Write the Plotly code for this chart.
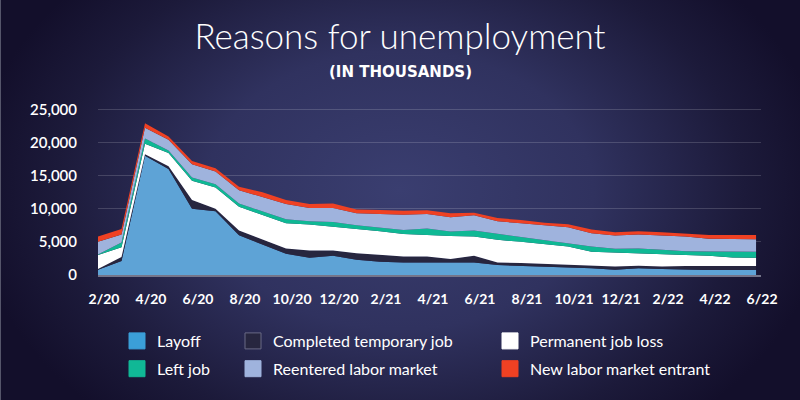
import base64
import plotly.graph_objects as go

months = ["2/20", "3/20", "4/20", "5/20", "6/20", "7/20", "8/20", "9/20", "10/20", "11/20",
          "12/20", "1/21", "2/21", "3/21", "4/21", "5/21", "6/21", "7/21", "8/21", "9/21",
          "10/21", "11/21", "12/21", "1/22", "2/22", "3/22", "4/22", "5/22", "6/22"]

layoff = [800, 2100, 18000, 16000, 10000, 9600, 6000, 4600, 3200, 2600, 2900, 2300, 2000, 1900, 1900,
          1900, 1900, 1500, 1400, 1300, 1200, 1000, 800, 1000, 900, 800, 750, 750, 750]
completed_temp = [100, 600, 200, 400, 1300, 400, 700, 700, 800, 1100, 800, 1000, 1000, 900, 900,
                  500, 1000, 400, 400, 400, 400, 400, 500, 400, 400, 550, 600, 600, 600]
permanent_loss = [2100, 1500, 1600, 2000, 2900, 3200, 3600, 3700, 3800, 3900, 3600, 3700, 3600, 3400, 3200,
                  3500, 2900, 3400, 3200, 3000, 2700, 2100, 2050, 1800, 1800, 1650, 1550, 1300, 1250]
left_job = [100, 700, 800, 400, 500, 500, 500, 600, 600, 500, 700, 500, 550, 600, 1000,
            650, 900, 900, 800, 600, 500, 800, 600, 800, 700, 600, 650, 850, 900]
reentered = [1900, 1200, 1600, 1600, 2000, 1900, 2000, 2100, 2300, 2000, 2100, 1800, 2050, 2300, 2200,
             2150, 2300, 1900, 2000, 2150, 2400, 2000, 2000, 2100, 2200, 2200, 1900, 1950, 1900]
new_entrant = [800, 850, 700, 500, 500, 500, 500, 800, 600, 600, 700, 600, 600, 600, 550,
               600, 400, 500, 500, 450, 450, 550, 500, 500, 450, 500, 600, 600, 650]

series_names = ["Layoff", "Completed temporary job", "Permanent job loss",
                "Left job", "Reentered labor market", "New labor market entrant"]
series_values = [layoff, completed_temp, permanent_loss, left_job, reentered, new_entrant]
y_ticks = [0, 5000, 10000, 15000, 20000, 25000]

area_colors = ["#5ea3d6", "#27263f", "#ffffff", "#0fb894", "#9fb3dd", "#ef4123"]
swatch_colors = ["#3b9fd8", "#27263f", "#ffffff", "#10b896", "#9fb3dd", "#ef4123"]
swatch_lines = ["#3b9fd8", "#6a6a86", "#ffffff", "#10b896", "#9fb3dd", "#ef4123"]
legend_ids = ["legend", "legend2", "legend3", "legend", "legend2", "legend3"]

x = list(range(len(months)))

# layout geometry
W_FIG, H_FIG = 800, 400
L, R, T, B = 98, 39, 100, 125
PW = W_FIG - L - R
PH = H_FIG - T - B

fig = go.Figure()
for name, vals, col in zip(series_names, series_values, area_colors):
    fig.add_trace(go.Scatter(
        x=x, y=vals, name=name, mode="lines", stackgroup="one",
        line=dict(width=0, color=col), fillcolor=col,
        showlegend=False, hoverinfo="skip"))

for i, name in enumerate(series_names):
    fig.add_trace(go.Scatter(
        x=[None], y=[None], name=name, mode="markers",
        marker=dict(symbol="square", size=16, color=swatch_colors[i],
                    line=dict(color=swatch_lines[i], width=1)),
        legend=legend_ids[i], legendgroup=name, showlegend=True))

svg = (
    '<svg xmlns="http://www.w3.org/2000/svg" width="800" height="400">'
    '<defs><radialGradient id="g" gradientUnits="userSpaceOnUse" cx="400" cy="190" r="430" '
    'gradientTransform="translate(400 190) scale(1 0.72) translate(-400 -190)">'
    '<stop offset="0" stop-color="#3a3e70"/>'
    '<stop offset="0.45" stop-color="#30325f"/>'
    '<stop offset="0.8" stop-color="#1c1a3a"/>'
    '<stop offset="1" stop-color="#130f2b"/>'
    '</radialGradient></defs>'
    '<rect width="800" height="400" fill="url(#g)"/></svg>'
)
bg_src = "data:image/svg+xml;base64," + base64.b64encode(svg.encode()).decode()

leg_common = dict(
    orientation="v", bgcolor="rgba(0,0,0,0)", borderwidth=0,
    font=dict(family="Lato", size=16, color="#ffffff"),
    xanchor="left", yanchor="top", tracegroupgap=4,
    itemsizing="trace")

def px_x(p):
    return (p - L) / PW

def px_y(p):
    return 1 - (p - T) / PH

fig.update_layout(
    width=W_FIG, height=H_FIG,
    margin=dict(l=L, r=R, t=T, b=B),
    paper_bgcolor="#24244a",
    plot_bgcolor="rgba(0,0,0,0)",
    images=[dict(source=bg_src, xref="paper", yref="paper",
                 x=-L / PW, y=1 + T / PH, sizex=W_FIG / PW, sizey=H_FIG / PH,
                 xanchor="left", yanchor="top", sizing="stretch", layer="below")],
    title=dict(text="Reasons for unemployment", x=0.5, xref="container", xanchor="center",
               y=1 - 37 / H_FIG, yref="container", yanchor="middle",
               font=dict(family="Lato", size=35, color="#ffffff", weight=300)),
    annotations=[dict(text="(IN THOUSANDS)", xref="paper", yref="paper",
                      x=px_x(400), y=px_y(72), showarrow=False,
                      xanchor="center", yanchor="middle",
                      font=dict(family="DejaVu Sans", size=15, color="#ffffff", weight=700))],
    xaxis=dict(range=[0, 28.21], tickvals=x[::2], ticktext=months[::2],
               showgrid=False, zeroline=False, showline=True, linecolor="#75758a", linewidth=2,
               ticks="", ticklabelstandoff=10, ticklabelshift=6,
               tickfont=dict(family="Lato", size=14, color="#ffffff", weight=700)),
    yaxis=dict(range=[0, 26400], tickvals=y_ticks, tickformat=",d",
               showgrid=True, gridcolor="rgba(255,255,255,0.16)", gridwidth=1,
               zeroline=False, showline=False, ticks="", ticklabelstandoff=20,
               tickfont=dict(family="Lato", size=15, color="#ffffff", weight=600)),
    legend=dict(x=px_x(117), y=px_y(324), **leg_common),
    legend2=dict(x=px_x(233), y=px_y(324), **leg_common),
    legend3=dict(x=px_x(490), y=px_y(324), **leg_common),
    shapes=[dict(type="line", xref="paper", yref="paper", x0=-L / PW + 0.5 / PW, x1=-L / PW + 0.5 / PW,
                 y0=1 + T / PH, y1=-B / PH, line=dict(color="#55556a", width=1), layer="above")],
    hovermode=False,
)

fig.write_html("out.html", config={"displayModeBar": False},
               post_script="document.body.style.margin='0';document.body.style.padding='0';")
